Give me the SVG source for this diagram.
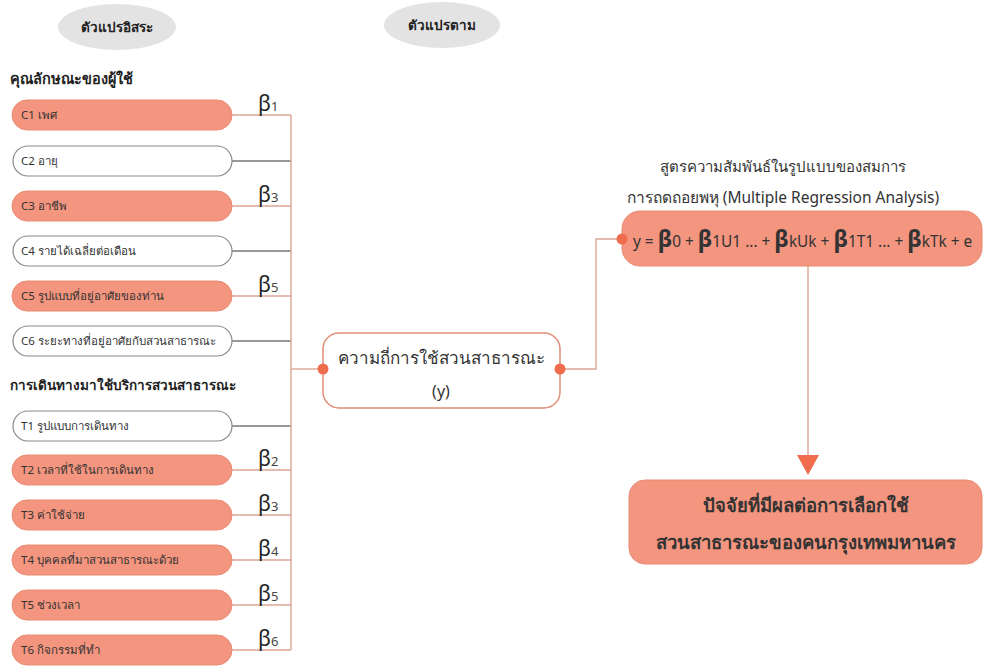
<svg xmlns="http://www.w3.org/2000/svg" width="990" height="666" viewBox="0 0 990 666">
<style>
text{font-family:"Noto Sans","Liberation Sans",sans-serif;fill:#333}
.hd{font-size:13.5px;font-weight:bold;fill:#222}
.bx{font-size:11.5px}
.f{fill:#f3957f;stroke:#ea8a73;stroke-width:1}
.w{fill:#fff;stroke:#8a8a8a;stroke-width:1.2}
.lo{stroke:#dba595;stroke-width:1.4;fill:none}
.lg{stroke:#777;stroke-width:1.4;fill:none}
.b{font-size:21px;fill:#222}
.bs{font-size:13px;fill:#444}
.dot{fill:#ef6c4c}
.fb{font-size:23px;font-weight:bold}
</style>
<rect width="990" height="666" fill="#fff"/>
<g id="hdr1"><ellipse cx="117" cy="27" rx="59" ry="23" fill="#e3e3e3"/><text x="117" y="32" text-anchor="middle" class="hd">ตัวแปรอิสระ</text></g>
<g id="hdr2"><ellipse cx="442" cy="25" rx="58" ry="23" fill="#e3e3e3"/><text x="442" y="30" text-anchor="middle" class="hd">ตัวแปรตาม</text></g>
<text x="10" y="84" class="hd" style="font-size:14.5px">คุณลักษณะของผู้ใช้</text>
<text x="10" y="390" class="hd">การเดินทางมาใช้บริการสวนสาธารณะ</text>
<g id="connectors">
<line class="lo" x1="232" y1="115" x2="291" y2="115"/>
<line class="lg" x1="232" y1="161" x2="291" y2="161"/>
<line class="lo" x1="232" y1="206" x2="291" y2="206"/>
<line class="lg" x1="232" y1="251" x2="291" y2="251"/>
<line class="lo" x1="232" y1="296" x2="291" y2="296"/>
<line class="lg" x1="232" y1="341" x2="291" y2="341"/>
<line class="lg" x1="232" y1="426" x2="291" y2="426"/>
<line class="lo" x1="232" y1="470" x2="291" y2="470"/>
<line class="lo" x1="232" y1="515" x2="291" y2="515"/>
<line class="lo" x1="232" y1="560" x2="291" y2="560"/>
<line class="lo" x1="232" y1="605" x2="291" y2="605"/>
<line class="lo" x1="232" y1="650" x2="291" y2="650"/>
<line class="lo" x1="291" y1="115" x2="291" y2="650"/>
<line class="lo" x1="291" y1="369" x2="323" y2="369"/>
<polyline class="lo" points="560,369 596,369 596,239 622,239"/>
<line class="lo" x1="808" y1="266" x2="808" y2="456"/>
<polygon points="797,455 819,455 808,475" fill="#ef6c4c"/>
<text x="258" y="111"><tspan class="b">β</tspan><tspan class="bs">1</tspan></text>
<text x="258" y="202"><tspan class="b">β</tspan><tspan class="bs">3</tspan></text>
<text x="258" y="292"><tspan class="b">β</tspan><tspan class="bs">5</tspan></text>
<text x="258" y="466"><tspan class="b">β</tspan><tspan class="bs">2</tspan></text>
<text x="258" y="511"><tspan class="b">β</tspan><tspan class="bs">3</tspan></text>
<text x="258" y="556"><tspan class="b">β</tspan><tspan class="bs">4</tspan></text>
<text x="258" y="601"><tspan class="b">β</tspan><tspan class="bs">5</tspan></text>
<text x="258" y="646"><tspan class="b">β</tspan><tspan class="bs">6</tspan></text>
</g>
<g id="C1"><rect class="f" x="12" y="100" width="220" height="30" rx="15"/><text class="bx" x="21" y="119">C1 เพศ</text></g>
<g id="C2"><rect class="w" x="13" y="146" width="219" height="30" rx="15"/><text class="bx" x="21" y="165">C2 อายุ</text></g>
<g id="C3"><rect class="f" x="12" y="191" width="220" height="30" rx="15"/><text class="bx" x="21" y="210">C3 อาชีพ</text></g>
<g id="C4"><rect class="w" x="13" y="236" width="219" height="30" rx="15"/><text class="bx" x="21" y="255">C4 รายได้เฉลี่ยต่อเดือน</text></g>
<g id="C5"><rect class="f" x="12" y="281" width="220" height="30" rx="15"/><text class="bx" x="21" y="300">C5 รูปแบบที่อยู่อาศัยของท่าน</text></g>
<g id="C6"><rect class="w" x="13" y="326" width="219" height="30" rx="15"/><text class="bx" x="21" y="345">C6 ระยะทางที่อยู่อาศัยกับสวนสาธารณะ</text></g>
<g id="T1"><rect class="w" x="13" y="411" width="219" height="30" rx="15"/><text class="bx" x="21" y="430">T1 รูปแบบการเดินทาง</text></g>
<g id="T2"><rect class="f" x="12" y="455" width="220" height="30" rx="15"/><text class="bx" x="21" y="474">T2 เวลาที่ใช้ในการเดินทาง</text></g>
<g id="T3"><rect class="f" x="12" y="500" width="220" height="30" rx="15"/><text class="bx" x="21" y="519">T3 ค่าใช้จ่าย</text></g>
<g id="T4"><rect class="f" x="12" y="545" width="220" height="30" rx="15"/><text class="bx" x="21" y="564">T4 บุคคลที่มาสวนสาธารณะด้วย</text></g>
<g id="T5"><rect class="f" x="12" y="590" width="220" height="30" rx="15"/><text class="bx" x="21" y="609">T5 ช่วงเวลา</text></g>
<g id="T6"><rect class="f" x="12" y="635" width="220" height="30" rx="15"/><text class="bx" x="21" y="654">T6 กิจกรรมที่ทำ</text></g>
<g id="Y">
<rect x="323" y="333" width="237" height="75" rx="16" fill="#fff" stroke="#e08f78" stroke-width="1.5"/>
<text x="441" y="364" text-anchor="middle" font-size="17">ความถี่การใช้สวนสาธารณะ</text>
<text x="441" y="397" text-anchor="middle" font-size="16">(y)</text>
<circle class="dot" cx="323" cy="369" r="5.5"/>
<circle class="dot" cx="560" cy="369" r="5.5"/>
</g>
<g id="formula">
<text x="783" y="172" text-anchor="middle" font-size="15">สูตรความสัมพันธ์ในรูปแบบของสมการ</text>
<text x="783" y="203" text-anchor="middle" font-size="15.5">การถดถอยพหุ (Multiple Regression Analysis)</text>
<rect class="f" x="622" y="211" width="360" height="55" rx="18"/>
<circle class="dot" cx="622" cy="239" r="5.5"/>
<text x="633" y="247" font-size="15.4" fill="#222">y = <tspan class="fb">β</tspan>0 + <tspan class="fb">β</tspan>1U1 ... + <tspan class="fb">β</tspan>kUk + <tspan class="fb">β</tspan>1T1 ... + <tspan class="fb">β</tspan>kTk + e</text>
</g>
<g id="result">
<rect class="f" x="629" y="480" width="353" height="84" rx="16" stroke="#e07f66" stroke-width="1.2"/>
<text x="806" y="512" text-anchor="middle" font-size="18.5" font-weight="bold" fill="#222">ปัจจัยที่มีผลต่อการเลือกใช้</text>
<text x="806" y="549" text-anchor="middle" font-size="18.5" font-weight="bold" fill="#222">สวนสาธารณะของคนกรุงเทพมหานคร</text>
</g>
</svg>
